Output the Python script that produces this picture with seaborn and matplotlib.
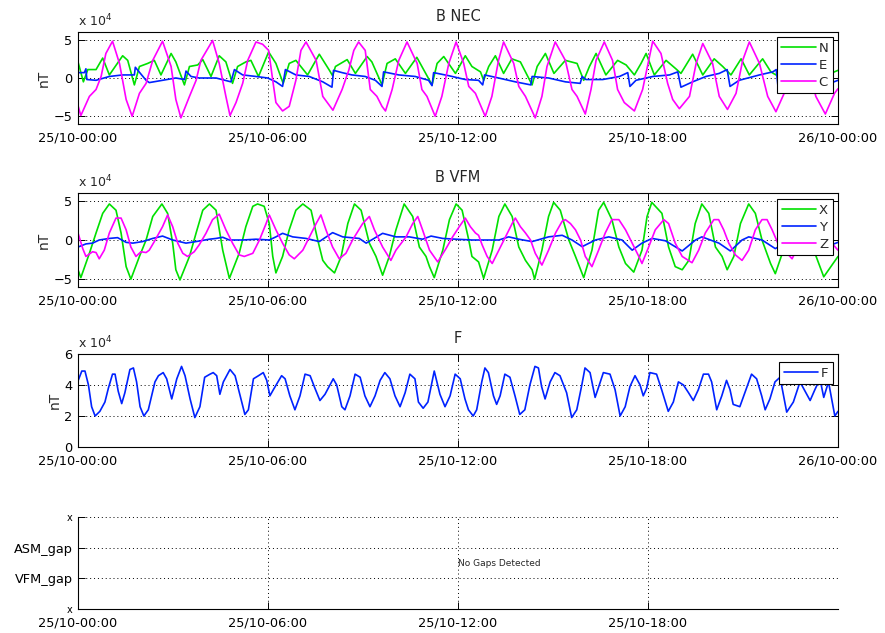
import matplotlib
matplotlib.use("Agg")
import matplotlib.pyplot as plt
import seaborn as sns
import pandas as pd

# ---------------- data (hours since 25/10 00:00, values in units of 1e4 nT) -------------
date_ticks = [0, 6, 12, 18, 24]
date_labels = ["25/10-00:00", "25/10-06:00", "25/10-12:00", "25/10-18:00", "26/10-00:00"]
gap_ticks = [0, 1, 2, 3]
gap_labels = ["x", "VFM_gap", "ASM_gap", "x"]

# B NEC : N
n_t = [0.0, 0.17, 0.31, 0.57, 0.78, 0.99, 1.41, 1.57, 1.78, 1.94, 2.2, 2.41, 2.62, 2.94, 3.09, 3.36,
       3.52, 3.78, 3.94, 4.2, 4.46, 4.67, 4.88, 5.04, 5.3, 5.46, 5.7, 6.02, 6.25, 6.48, 6.67, 6.88,
       7.25, 7.62, 7.94, 8.04, 8.13, 8.5, 8.76, 9.13, 9.28, 9.6, 9.76, 10.02, 10.34, 10.7, 10.86,
       11.18, 11.34, 11.55, 11.92, 12.23, 12.44, 12.71, 12.81, 12.97, 13.18, 13.44, 13.7, 13.97,
       14.34, 14.5, 14.76, 15.03, 15.39, 15.76, 15.97, 16.15, 16.36, 16.67, 17.04, 17.31, 17.57,
       17.78, 17.94, 18.2, 18.57, 18.88, 19.04, 19.41, 19.73, 20.09, 20.36, 20.62, 20.94, 21.2,
       21.62, 21.88, 22.04, 22.4, 22.75, 23.2, 23.6, 24.0]
n_v = [2.1, -0.5, 1.1, 1.1, 2.6, 0.4, 2.9, 2.3, -0.9, 1.5, 1.9, 2.3, 0.4, 3.2, 2.1, -0.9,
       1.5, 1.7, 2.4, 0.2, 2.9, 2.1, -0.7, 1.5, 2.1, 2.3, 0.2, 3.4, 1.9, -0.7, 1.9, 2.3,
       0.4, 3.1, 1.0, 0.3, 1.5, 2.4, 0.6, 2.8, 2.1, -0.9, 1.9, 2.5, 0.6, 2.7, 1.5,
       -0.9, 1.9, 2.8, 0.6, 2.9, 1.5, 0.8, -0.3, 1.5, 2.9, 0.6, 2.5, 2.1,
       -0.9, 1.5, 3.2, 0.6, 2.3, 1.9, -0.3, 1.5, 3.2, 0.4, 2.3, 1.7, 0.4,
       1.9, 3.2, 0.4, 2.3, 1.2, 0.6, 3.1, 0.4, 2.5, 1.5, 0.4, 2.5, 0.4,
       2.5, 0.8, 0.4, 2.6, 0.4, 2.8, 0.3, 1.0]

# B NEC : E
e_t = [0.0, 0.2, 0.25, 0.28, 0.57, 0.99, 1.41, 1.78, 1.81, 2.15, 2.25, 2.67, 3.09, 3.36, 3.41, 3.57,
       3.83, 4.36, 4.83, 4.94, 5.2, 5.62, 5.99, 6.25, 6.46, 6.55, 6.88, 7.3, 7.73, 8.02, 8.07, 8.34,
       8.65, 9.07, 9.39, 9.6, 9.65, 10.13, 10.65, 11.07, 11.18, 11.23, 11.71, 12.23, 12.65, 12.78,
       12.84, 13.28, 13.81, 14.3, 14.34, 14.86, 15.39, 15.86, 15.92, 16.04, 16.57, 17.1, 17.36,
       17.43, 17.62, 18.15, 18.68, 18.94, 19.04, 19.41, 19.83, 20.25, 20.5, 20.59, 20.88, 21.52,
       21.94, 22.05, 22.1, 22.6, 23.2, 23.55, 23.62, 24.0]
e_v = [0.7, 0.7, 1.2, -0.2, -0.3, 0.2, 0.4, 0.4, 1.4, -0.3, -0.6, -0.3, 0.0, -0.2, 0.9, 0.2,
       0.0, 0.0, -0.5, 1.1, 0.4, 0.2, 0.0, -0.5, -1.1, 1.1, 0.4, 0.2, -0.5, -1.2, 1.0, 0.7,
       0.4, 0.2, -0.3, -1.1, 0.8, 0.4, 0.2, -0.3, -1.0, 0.7, 0.3, -0.2, -0.3, -0.9,
       0.4, 0.0, -0.5, -0.9, 0.2, 0.0, -0.5, -0.7, 0.2, -0.2, -0.2, 0.2, 0.7,
       -1.1, -0.3, 0.2, 0.4, 0.8, -1.2, -0.5, 0.2, 0.6, 1.1, -1.1, -0.3, 0.4,
       0.8, 1.1, -0.9, -0.2, 0.5, 0.9, -0.9, -0.3]

# B NEC : C
c_t = [0.0, 0.09, 0.36, 0.57, 0.73, 0.88, 1.09, 1.31, 1.52, 1.71, 1.94, 2.15, 2.36, 2.67, 2.94, 3.09,
       3.25, 3.52, 3.73, 3.88, 4.25, 4.46, 4.67, 4.8, 4.99, 5.2, 5.36, 5.62, 5.83, 6.02, 6.15, 6.25,
       6.46, 6.67, 6.88, 7.04, 7.2, 7.52, 7.73, 8.05, 8.34, 8.55, 8.71, 8.86, 9.07, 9.23, 9.44, 9.6,
       9.71, 9.92, 10.13, 10.39, 10.71, 10.86, 11.02, 11.28, 11.49, 11.71, 11.94, 12.18, 12.34,
       12.55, 12.86, 13.07, 13.28, 13.44, 13.76, 13.92, 14.13, 14.44, 14.65, 14.81, 15.07, 15.39,
       15.6, 15.76, 16.02, 16.2, 16.36, 16.62, 16.88, 17.04, 17.25, 17.57, 17.83, 18.15, 18.41,
       18.62, 18.78, 18.99, 19.31, 19.52, 19.73, 20.04, 20.25, 20.51, 20.78, 20.99, 21.2, 21.52,
       21.78, 22.04, 22.3, 22.57, 22.78, 23.04, 23.3, 23.6, 23.89, 24.0]
c_v = [-3.6, -4.9, -2.4, -1.5, 0.2, 3.2, 4.8, 1.9, -2.8, -5.0, -2.0, -0.7, 2.3, 4.8, 1.5, -2.8,
       -5.2, -2.4, -0.3, 2.3, 4.9, 1.9, -2.4, -4.9, -3.2, -0.7, 2.3, 4.7, 4.4, 3.6, -0.3, -3.2,
       -4.3, -3.7, -0.3, 3.6, 4.7, 2.3, -2.4, -4.2, -1.5, 1.0, 3.6, 4.7, 3.6, -1.5, -2.4, -3.7,
       -4.3, -1.5, 2.3, 4.7, 1.9, -1.5, -2.4, -5.0, -2.4, 1.9, 4.7, 1.9, -1.1,
       -2.0, -5.0, -2.4, 2.3, 4.7, 1.9, -1.1, -2.4, -5.2, -2.4, 1.5, 4.7, 2.3,
       -1.5, -2.4, -4.7, -1.5, 2.3, 4.7, 2.3, -1.5, -3.2, -4.3, -1.5, 4.8, 3.2,
       -0.7, -2.8, -4.0, -2.4, 1.9, 4.5, 1.9, -2.4, -4.1, -2.0, 2.3, 4.7, 1.9,
       -2.4, -4.4, -2.0, 2.6, 4.6, 1.9, -2.4, -4.7, -2.0, -1.4]

# B VFM : X
x_t = [0.0, 0.09, 0.36, 0.57, 0.78, 0.99, 1.2, 1.36, 1.52, 1.67, 1.94, 2.15, 2.36, 2.65, 2.83, 2.99,
       3.09, 3.22, 3.52, 3.73, 3.94, 4.15, 4.36, 4.57, 4.78, 5.09, 5.3, 5.52, 5.67, 5.88, 6.04, 6.15,
       6.25, 6.46, 6.67, 6.88, 7.1, 7.36, 7.57, 7.73, 7.88, 8.1, 8.31, 8.52, 8.73, 8.94, 9.2, 9.41,
       9.62, 9.83, 10.04, 10.3, 10.57, 10.78, 10.99, 11.1, 11.25, 11.52, 11.73, 11.94, 12.13, 12.34,
       12.44, 12.65, 12.81, 13.08, 13.29, 13.48, 13.71, 13.92, 14.13, 14.34, 14.42, 14.65, 14.86,
       15.02, 15.23, 15.5, 15.71, 15.97, 16.23, 16.44, 16.6, 16.86, 17.08, 17.29, 17.55, 17.81,
       17.97, 18.12, 18.44, 18.65, 18.86, 19.08, 19.29, 19.49, 19.7, 19.92, 20.13, 20.34, 20.5,
       20.71, 20.92, 21.18, 21.39, 21.6, 21.87, 22.02, 22.3, 22.55, 22.8, 23.05, 23.3, 23.55, 24.0]
x_v = [-3.8, -4.8, -1.7, 0.9, 3.4, 4.6, 3.8, 0.9, -3.4, -5.0, -2.1, 0.0, 3.0, 4.6, 3.4, -0.4,
       -3.8, -5.1, -2.1, 0.9, 3.8, 4.6, 3.8, -1.3, -4.9, -1.7, 1.7, 4.3, 4.6, 4.3, 2.1, -2.1,
       -4.2, -2.1, 1.3, 3.8, 4.6, 3.8, 0.0, -2.6, -3.4, -4.2, -2.1, 2.1, 4.6, 3.8, -0.4, -2.1,
       -4.5, -2.1, 1.3, 4.6, 3.0, -0.9, -2.1, -3.4, -4.8, -1.3, 2.6, 4.6, 3.8, 0.0,
       -2.1, -2.8, -4.9, -1.3, 3.0, 4.6, 3.0, -0.9, -2.6, -3.8, -5.0, -1.3, 3.0,
       4.8, 3.8, 0.0, -2.1, -4.8, -1.3, 3.8, 4.8, 2.6, -0.9, -3.0, -4.1, -1.3,
       3.0, 4.8, 3.4, -0.9, -3.4, -3.8, -2.6, 2.1, 4.6, 3.4, -0.9, -2.1, -3.8,
       -2.1, 2.1, 4.6, 3.4, 0.0, -3.0, -4.3, -1.0, 3.0, 4.6, 2.5, -2.0, -4.7, -2.1]

# B VFM : Y
y_t = [0.0, 0.25, 0.46, 0.67, 0.99, 1.25, 1.52, 1.73, 2.04, 2.36, 2.67, 2.99, 3.2, 3.41, 3.73, 4.15,
       4.36, 4.57, 4.78, 5.2, 5.62, 6.04, 6.25, 6.46, 6.78, 7.2, 7.62, 8.04, 8.36, 8.88, 9.1, 9.62,
       10.04, 10.46, 10.88, 11.15, 11.52, 11.94, 12.45, 13.0, 13.29, 13.6, 13.92, 14.34, 14.86,
       15.29, 15.6, 15.92, 16.34, 16.76, 17.18, 17.5, 17.81, 18.13, 18.55, 19.08, 19.5, 19.7,
       20.24, 20.6, 20.97, 21.18, 21.6, 22.02, 22.5, 22.8, 23.2, 23.55, 24.0]
y_v = [-0.9, -0.5, -0.4, 0.0, 0.2, 0.3, -0.3, -0.4, -0.2, 0.2, 0.5, 0.0, -0.2, -0.4, -0.2, 0.1,
       0.2, 0.35, 0.0, 0.0, 0.1, 0.0, 0.4, 0.85, 0.4, 0.2, -0.2, 0.94, 0.4, 0.2, -0.4, 0.85,
       0.4, 0.4, 0.1, 0.5, 0.2, 0.1, 0.0, 0.0, 0.0, 0.4, 0.1, -0.2, 0.4,
       0.6, 0.0, -0.85, 0.0, 0.4, 0.0, -1.3, -0.4, 0.2, -0.1, -1.4, 0.0, 0.4,
       -0.4, -1.4, 0.0, 0.4, 0.0, -1.1, 0.0, 0.4, -0.2, -1.0, -0.3]

# B VFM : Z
z_t = [0.0, 0.15, 0.25, 0.46, 0.57, 0.67, 0.83, 0.99, 1.2, 1.36, 1.52, 1.67, 1.83, 1.99, 2.15, 2.25,
       2.41, 2.67, 2.83, 2.99, 3.15, 3.31, 3.46, 3.67, 3.83, 4.04, 4.25, 4.46, 4.67, 4.88, 5.09,
       5.25, 5.52, 5.73, 5.94, 6.04, 6.25, 6.46, 6.67, 6.83, 7.1, 7.31, 7.52, 7.67, 7.83, 8.04,
       8.25, 8.46, 8.67, 8.99, 9.2, 9.36, 9.62, 9.88, 10.04, 10.36, 10.57, 10.73, 10.88, 11.1,
       11.36, 11.62, 11.83, 12.04, 12.23, 12.39, 12.55, 12.65, 12.76, 12.92, 13.08, 13.29, 13.5,
       13.71, 13.81, 13.97, 14.13, 14.29, 14.44, 14.65, 14.86, 15.08, 15.29, 15.39, 15.55, 15.71,
       15.87, 16.02, 16.23, 16.44, 16.65, 16.86, 17.08, 17.29, 17.5, 17.71, 17.81, 18.02, 18.23,
       18.5, 18.65, 18.86, 19.08, 19.39, 19.6, 19.81, 20.08, 20.23, 20.39, 20.55, 20.76, 20.97,
       21.18, 21.39, 21.6, 21.76, 21.92, 22.1, 22.55, 22.9, 23.2, 23.5, 24.0]
z_v = [0.9, -1.1, -2.1, -1.5, -1.6, -2.4, -1.3, 0.9, 2.8, 2.8, 1.3, -0.9, -2.1, -1.5, -1.6, -1.3,
       -0.2, 1.7, 3.2, 1.7, -0.4, -1.7, -2.1, -1.5, -0.6, 0.85, 2.6, 3.3, 1.3, -0.4, -1.9,
       -2.1, -1.7, 0.0, 2.1, 3.2, 1.3, -0.4, -1.9, -2.4, -1.3, 0.4, 2.1, 3.2, 1.3, -0.9,
       -2.4, -1.7, 0.0, 2.1, 3.0, 1.3, -0.9, -2.6, -1.3, 0.4, 2.1, 3.0, 1.3, -1.3,
       -2.8, -1.1, 0.4, 1.7, 2.8, 1.7, 0.9, 0.6, -0.6, -2.1, -3.0, -1.3, 0.4,
       2.1, 2.8, 1.7, 0.9, 0.0, -1.7, -3.2, -1.3, 0.9, 2.4, 2.6, 2.1, 1.3,
       0.0, -2.1, -3.4, -1.3, 0.9, 2.6, 2.6, 1.3, -0.4, -2.1, -3.0, -0.9, 1.3,
       2.6, 2.1, -0.4, -2.1, -2.9, -1.3, 0.9, 2.6, 2.6, 1.3, -0.4, -1.9, -2.6,
       -1.3, 1.3, 2.6, 2.6, 1.3, -0.4, -2.4, 0.5, 2.5, 1.0, -1.3]

# F
f_t = [0.0, 0.12, 0.22, 0.33, 0.43, 0.54, 0.69, 0.85, 0.96, 1.09, 1.17, 1.27, 1.38, 1.48, 1.64, 1.75,
       1.85, 1.96, 2.08, 2.22, 2.43, 2.54, 2.69, 2.8, 2.96, 3.12, 3.27, 3.38, 3.54, 3.69, 3.85, 4.0,
       4.17, 4.27, 4.38, 4.48, 4.59, 4.8, 4.96, 5.12, 5.27, 5.38, 5.54, 5.7, 5.85, 5.96, 6.06, 6.17,
       6.43, 6.54, 6.69, 6.85, 7.01, 7.17, 7.33, 7.48, 7.64, 7.8, 8.06, 8.17, 8.33, 8.43, 8.59, 8.75,
       8.91, 9.06, 9.22, 9.38, 9.54, 9.69, 9.85, 10.01, 10.17, 10.33, 10.48, 10.64, 10.75, 10.9,
       11.05, 11.25, 11.43, 11.59, 11.75, 11.91, 12.07, 12.22, 12.33, 12.48, 12.59, 12.75, 12.85,
       12.96, 13.12, 13.22, 13.33, 13.48, 13.64, 13.8, 13.95, 14.11, 14.27, 14.43, 14.54, 14.64,
       14.75, 14.91, 15.06, 15.22, 15.43, 15.59, 15.75, 15.91, 16.01, 16.17, 16.27, 16.33, 16.43,
       16.59, 16.8, 16.96, 17.12, 17.28, 17.43, 17.59, 17.75, 17.85, 17.96, 18.06, 18.27, 18.43,
       18.64, 18.8, 18.96, 19.12, 19.28, 19.43, 19.59, 19.75, 19.91, 20.01, 20.17, 20.33, 20.48,
       20.59, 20.69, 20.9, 21.06, 21.27, 21.43, 21.59, 21.7, 21.85, 22.01, 22.17, 22.38, 22.59,
       22.8, 22.96, 23.12, 23.27, 23.43, 23.55, 23.7, 23.9, 24.0]
f_v = [4.26, 4.9, 4.9, 4.0, 2.6, 2.0, 2.3, 2.9, 3.8, 4.7, 4.7, 3.6, 2.8, 3.5, 5.0, 5.1,
       4.2, 2.6, 2.0, 2.4, 4.2, 4.6, 4.8, 4.4, 3.1, 4.4, 5.2, 4.6, 3.1, 1.9, 2.6, 4.5,
       4.7, 4.8, 4.6, 3.4, 4.2, 5.0, 4.6, 3.3, 2.1, 2.4, 4.4, 4.6, 4.8, 4.3, 3.3, 3.7,
       4.6, 4.4, 3.3, 2.4, 3.3, 4.7, 4.6, 3.8, 3.0, 3.4, 4.4, 4.0, 2.6, 2.4, 3.3, 4.7,
       4.5, 3.3, 2.6, 3.3, 4.3, 4.8, 4.4, 3.3, 2.6, 3.5, 4.7, 4.4, 2.9, 2.5,
       2.9, 4.9, 3.4, 2.6, 3.3, 4.7, 4.4, 3.1, 2.4, 2.0, 2.4, 4.2, 5.1,
       4.8, 3.3, 2.75, 3.3, 4.7, 4.5, 3.3, 2.1, 2.4, 4.0, 5.2, 5.1, 3.9,
       3.1, 4.2, 4.8, 4.6, 3.5, 1.9, 2.4, 4.0, 5.1, 4.8, 3.8, 3.2, 3.8,
       4.8, 4.7, 3.7, 2.0, 2.6, 3.9, 4.6, 4.0, 3.3, 3.8, 4.8, 4.7, 3.7,
       2.3, 2.9, 4.2, 4.0, 3.5, 3.0, 3.7, 4.7, 4.7, 4.2, 2.4, 3.3, 4.3,
       3.7, 2.75, 2.6, 3.5, 4.7, 4.4, 3.3, 2.4, 3.1, 4.2, 4.5, 2.25, 2.9,
       4.2, 3.6, 3.0, 3.7, 4.4, 3.2, 4.2, 2.0, 2.3]

# ---------------- style ----------------
sns.set_style("white")
plt.rcParams['font.family'] = ['DejaVu Sans']
GREEN, BLUE, MAGENTA = '#00e000', '#0022ff', '#ff00ff'
FS = 9.3

fig = plt.figure(figsize=(8.85, 6.33), dpi=100)
W, H = 885.0, 633.0
def add_ax(top, bottom):
    return fig.add_axes([78 / W, (H - bottom) / H, 760 / W, (bottom - top) / H])

ax1 = add_ax(32, 124)
ax2 = add_ax(193, 287)
ax3 = add_ax(354, 447)
ax4 = add_ax(517, 609)

def style(ax, ylim, yticks, yticklabels=None, xticks=date_ticks, xticklabels=date_labels, box=True):
    ax.set_xlim(0, 24)
    ax.set_ylim(*ylim)
    ax.set_xticks(xticks)
    ax.set_xticklabels(xticklabels)
    ax.set_yticks(yticks)
    if yticklabels is not None:
        ax.set_yticklabels(yticklabels)
    ax.tick_params(direction='in', length=5, width=0.7, top=box, right=box,
                   bottom=True, left=True, labelsize=FS, colors='black')
    ax.tick_params(axis='x', pad=5.5)
    ax.tick_params(axis='y', pad=4)
    ax.grid(True, color='black', linestyle=(0, (1, 3)), linewidth=0.7)
    for s in ['top', 'right', 'bottom', 'left']:
        ax.spines[s].set_color('black')
        ax.spines[s].set_linewidth(0.8)
    if not box:
        ax.spines['top'].set_visible(False)
        ax.spines['right'].set_visible(False)
    ax.set_xlabel('')

def series(ax, t, v, color, label):
    df = pd.DataFrame({'t': t, 'v': v})
    sns.lineplot(data=df, x='t', y='v', ax=ax, color=color, label=label,
                 estimator=None, sort=False, linewidth=1.2)

def legend(ax, top):
    lg = ax.legend(loc='upper right', bbox_to_anchor=(0.993, top), frameon=True, fancybox=False,
                   edgecolor='black', framealpha=1, fontsize=9.5, handlelength=2.6,
                   handletextpad=0.2, borderpad=0.35, labelspacing=0.3, borderaxespad=0)
    lg.get_frame().set_linewidth(0.8)

def head(ax, title):
    ax.set_title(title, fontsize=10.5, pad=8)
    ax.set_ylabel('nT', fontsize=10, labelpad=2)
    ax.text(0.0, 1.025, r'x 10$^{4}$', transform=ax.transAxes, ha='left', va='bottom', fontsize=9)

# panel 1: B NEC
series(ax1, n_t, n_v, GREEN, 'N')
series(ax1, e_t, e_v, BLUE, 'E')
series(ax1, c_t, c_v, MAGENTA, 'C')
style(ax1, (-6, 6), [-5, 0, 5])
head(ax1, 'B NEC')
legend(ax1, 0.946)

# panel 2: B VFM
series(ax2, x_t, x_v, GREEN, 'X')
series(ax2, y_t, y_v, BLUE, 'Y')
series(ax2, z_t, z_v, MAGENTA, 'Z')
style(ax2, (-6, 6), [-5, 0, 5])
head(ax2, 'B VFM')
legend(ax2, 0.936)

# panel 3: F
series(ax3, f_t, f_v, BLUE, 'F')
style(ax3, (0, 6), [0, 2, 4, 6])
head(ax3, 'F')
legend(ax3, 0.914)

# panel 4: gaps
style(ax4, (0, 3), gap_ticks, gap_labels, xticks=date_ticks[:4], xticklabels=date_labels[:4], box=False)
ax4.set_ylabel('')
ylabs = ax4.get_yticklabels()
for i in (0, 3):
    ylabs[i].set_fontsize(7)
ax4.text(12, 1.5, 'No Gaps Detected', fontsize=6.5, ha='left', va='center')

fig.savefig('out.png', dpi=100, facecolor='white')
